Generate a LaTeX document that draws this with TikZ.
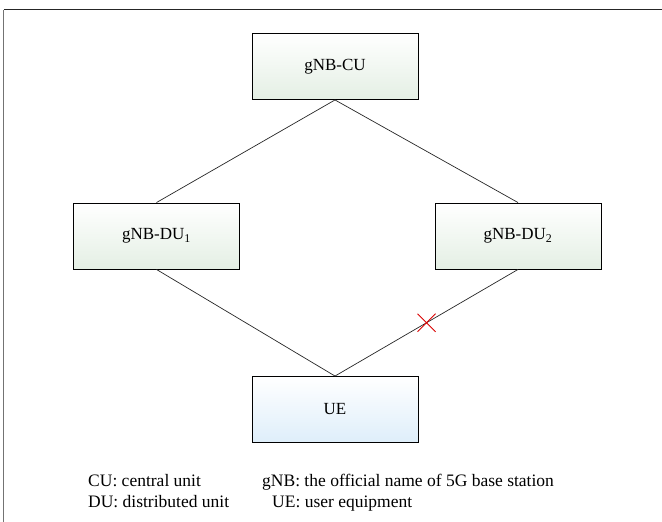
\documentclass[tikz,border=0pt]{standalone}
\usepackage{fontspec}
\setmainfont{Liberation Serif}
\usetikzlibrary{shadings}
\definecolor{dugreen}{RGB}{228,239,228}
\definecolor{ueblue}{RGB}{222,238,250}
\tikzset{
  unitbox/.style={draw=black, line width=0.9pt, minimum width=166pt, minimum height=66pt,
    inner sep=0pt, font=\fontsize{17}{19}\selectfont, top color=white, bottom color=dugreen},
  uebox/.style={unitbox, bottom color=ueblue},
  link/.style={draw=black!85, line width=0.7pt},
  legend/.style={anchor=base west, inner sep=0pt, font=\fontsize{17.5}{20}\selectfont}
}
\begin{document}
\begin{tikzpicture}[x=1pt,y=-1pt]
\useasboundingbox (0,0) rectangle (662,522);
% outer frame (top and left edges)
\draw[black!55, line width=1pt] (3.5,522) -- (3.5,9.5);
\draw[black!85, line width=1pt] (3.5,9.5) -- (662,9.5);
% units
\node[unitbox] (cu)  at (335,66.5)  {gNB-CU};
\node[unitbox] (du1) at (156.5,236) {gNB-DU\textsubscript{1}};
\node[unitbox] (du2) at (518,236)   {gNB-DU\textsubscript{2}};
\node[uebox]   (ue)  at (335,409.5) {UE};
% connections
\draw[link] (cu.south) -- (du1.north);
\draw[link] (cu.south) -- (du2.north);
\draw[link] (du1.south) -- (ue.north);
\draw[link] (du2.south) -- (ue.north) coordinate[pos=0.5] (cut);
% broken link marker
\draw[red!85!black, line width=0.9pt] ([shift={(-9,-9)}]cut) -- ([shift={(9,9)}]cut)
  ([shift={(-9,9)}]cut) -- ([shift={(9,-9)}]cut);
% legend
\node[legend] (l1) at (88,486) {CU: central unit};
\node[legend] (l2) at (262,486) {gNB: the official name of 5G base station};
\node[legend] (l3) at (88,507) {DU: distributed unit};
\node[legend] (l4) at (272,507) {UE: user equipment};
\end{tikzpicture}
\end{document}
